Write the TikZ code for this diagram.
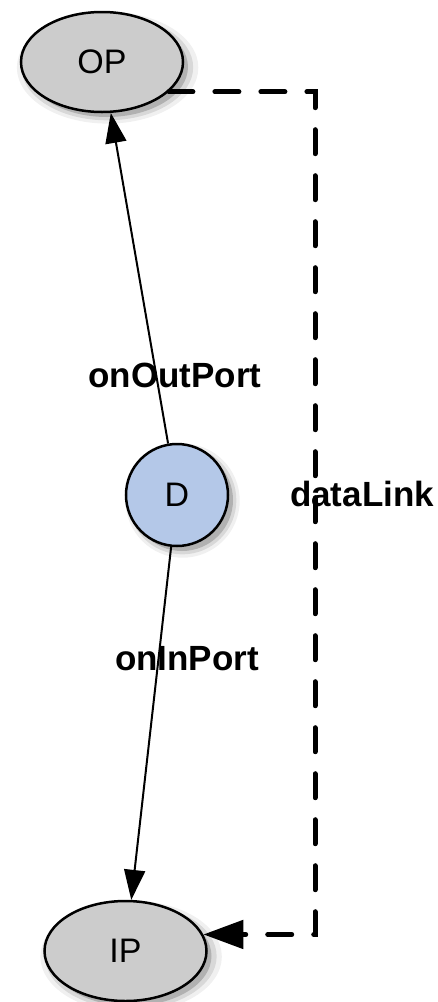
\documentclass[tikz,border=0pt]{standalone}
\usepackage{fontspec}
\setmainfont{Liberation Sans}
\usetikzlibrary{shapes.geometric,arrows.meta,shadows}
\definecolor{nodegray}{RGB}{204,204,204}
\definecolor{nodeblue}{RGB}{180,200,232}
\tikzset{
  softshadow/.style={
    general shadow={fill=black,opacity=0.06,shadow xshift=5pt,shadow yshift=-5pt,shadow scale=1.12},
    general shadow={fill=black,opacity=0.10,shadow xshift=5pt,shadow yshift=-5pt,shadow scale=1.06},
    general shadow={fill=black,opacity=0.18,shadow xshift=5pt,shadow yshift=-5pt,shadow scale=1.0}
  },
  portnode/.style={ellipse,draw=black,line width=2.5pt,fill=nodegray,
    minimum width=162pt,minimum height=100pt,inner sep=0pt,softshadow,
    font=\fontsize{34}{40}\selectfont},
  datanode/.style={circle,draw=black,line width=2.5pt,fill=nodeblue,
    minimum size=102pt,inner sep=0pt,softshadow,
    font=\fontsize{34}{40}\selectfont},
  rel/.style={draw=black,line width=2pt,-{Triangle[length=30pt,width=21pt]}},
  dlink/.style={draw=black,line width=5pt,line cap=round,dash pattern=on 24pt off 22pt,
    -{Triangle[length=40pt,width=28pt]}},
  lbl/.style={font=\bfseries\fontsize{35}{40}\selectfont,inner sep=0pt}
}
\begin{document}
\begin{tikzpicture}[x=1pt,y=-1pt]
\useasboundingbox (0,0) rectangle (438,1002);
\node[portnode] (OP) at (102,62) {OP};
\node[datanode] (D) at (177,495) {D};
\node[portnode] (IP) at (125.5,951) {IP};
\coordinate (c) at (315,500);
\draw[rel] (D) -- (OP);
\draw[rel] (D) -- (IP);
\draw[dlink] (OP.-24) -| (c) |- (IP.12);
\node[lbl] (l1) at (175,375) {onOutPort};
\node[lbl] (l2) at (187,659) {onInPort};
\node[lbl] (l3) at (362,494) {dataLink};
\end{tikzpicture}
\end{document}
